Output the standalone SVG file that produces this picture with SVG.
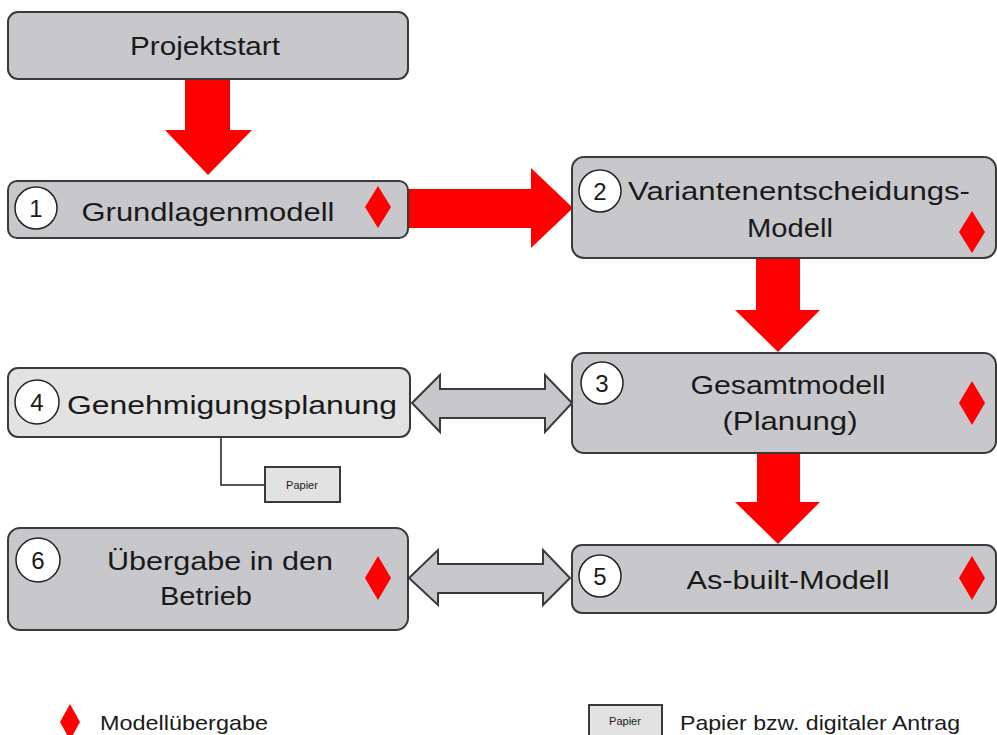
<svg xmlns="http://www.w3.org/2000/svg" width="997" height="735" viewBox="0 0 997 735">
<style>
.box{fill:#c8c8cc;stroke:#3a3a3a;stroke-width:2}
.lbox{fill:#e2e2e2;stroke:#3a3a3a;stroke-width:2}
.num{fill:#fff;stroke:#222;stroke-width:1.5}
.t{font-family:"Liberation Sans",Arial,sans-serif;font-size:26px;fill:#1a1a1a;text-anchor:middle}
.n{font-family:"Liberation Sans",Arial,sans-serif;font-size:24px;fill:#1a1a1a;text-anchor:middle}
.s{font-family:"Liberation Sans",Arial,sans-serif;font-size:11px;fill:#1a1a1a;text-anchor:middle}
.lg{font-family:"Liberation Sans",Arial,sans-serif;font-size:21px;fill:#1a1a1a}
.red{fill:#ff0000}
.dbl{fill:#c8c8cc;stroke:#3a3a3a;stroke-width:2;stroke-linejoin:miter}
</style>
<g id="connectors">
<polygon class="red" points="185,79 230,79 230,130 252,130 208,175 165,130 185,130"/>
<polygon class="red" points="408,189 531,189 531,168 573,208 531,248 531,228 408,228"/>
<polygon class="red" points="756,258 800,258 800,310 820,310 778,352 735,310 756,310"/>
<polygon class="red" points="757,453 800,453 800,502 820,502 778,544 735,502 757,502"/>
<polygon class="dbl" points="412,403 440,375 440,389 545,389 545,375 572,403 545,432 545,418 440,418 440,432"/>
<polygon class="dbl" points="409,578 438,550 438,564 543,564 543,550 570,578 543,605 543,593 438,593 438,605"/>
<polyline points="221,437 221,485 265,485" fill="none" stroke="#222" stroke-width="1.5"/>
</g>
<g id="projektstart">
<rect class="box" x="8" y="12" width="400" height="67" rx="10"/>
<text class="t" x="205" y="55" font-size="27" textLength="150" lengthAdjust="spacingAndGlyphs">Projektstart</text>
</g>
<g id="node1">
<rect class="box" x="8" y="181" width="400" height="57" rx="9"/>
<circle class="num" cx="36" cy="208" r="21"/>
<text class="n" x="36" y="217">1</text>
<text class="t" x="208" y="221" textLength="253" lengthAdjust="spacingAndGlyphs">Grundlagenmodell</text>
<polygon class="red" points="378,186 391,207 378,228 365,207"/>
</g>
<g id="node2">
<rect class="box" x="572" y="157" width="424" height="101" rx="12"/>
<circle class="num" cx="600" cy="191" r="21"/>
<text class="n" x="600" y="200">2</text>
<text class="t" x="799" y="200" textLength="342" lengthAdjust="spacingAndGlyphs">Variantenentscheidungs-</text>
<text class="t" x="790" y="237" textLength="86" lengthAdjust="spacingAndGlyphs">Modell</text>
<polygon class="red" points="972,211 985,232 972,253 959,232"/>
</g>
<g id="node3">
<rect class="box" x="572" y="353" width="424" height="100" rx="12"/>
<circle class="num" cx="602" cy="383" r="21"/>
<text class="n" x="602" y="392">3</text>
<text class="t" x="788" y="394" textLength="195" lengthAdjust="spacingAndGlyphs">Gesamtmodell</text>
<text class="t" x="790" y="430" textLength="135" lengthAdjust="spacingAndGlyphs">(Planung)</text>
<polygon class="red" points="972,381 985,403 972,425 959,403"/>
</g>
<g id="node4">
<rect class="lbox" x="8" y="368" width="402" height="69" rx="10"/>
<circle class="num" cx="37" cy="402" r="22"/>
<text class="n" x="37" y="411">4</text>
<text class="t" x="232" y="414" textLength="330" lengthAdjust="spacingAndGlyphs">Genehmigungsplanung</text>
</g>
<g id="papier">
<rect class="lbox" x="265" y="467" width="75" height="35" stroke-width="1.5"/>
<text class="s" x="302" y="489">Papier</text>
</g>
<g id="node5">
<rect class="box" x="572" y="545" width="424" height="68" rx="10"/>
<circle class="num" cx="600" cy="576" r="21"/>
<text class="n" x="600" y="585">5</text>
<text class="t" x="788" y="589" textLength="203" lengthAdjust="spacingAndGlyphs">As-built-Modell</text>
<polygon class="red" points="972,556 985,578 972,600 959,578"/>
</g>
<g id="node6">
<rect class="box" x="8" y="528" width="400" height="102" rx="12"/>
<circle class="num" cx="38" cy="560" r="22"/>
<text class="n" x="38" y="569">6</text>
<text class="t" x="220" y="570" textLength="226" lengthAdjust="spacingAndGlyphs">Übergabe in den</text>
<text class="t" x="206" y="605" textLength="92" lengthAdjust="spacingAndGlyphs">Betrieb</text>
<polygon class="red" points="378,556 391,578 378,600 365,578"/>
</g>
<g id="legend">
<polygon class="red" points="70,704 80,722 70,740 60,722"/>
<text class="lg" x="100" y="730" textLength="168" lengthAdjust="spacingAndGlyphs">Modellübergabe</text>
<rect class="lbox" x="589" y="705" width="73" height="32" stroke-width="1.5"/>
<text class="s" x="625" y="725">Papier</text>
<text class="lg" x="680" y="730" textLength="280" lengthAdjust="spacingAndGlyphs">Papier bzw. digitaler Antrag</text>
</g>
</svg>
